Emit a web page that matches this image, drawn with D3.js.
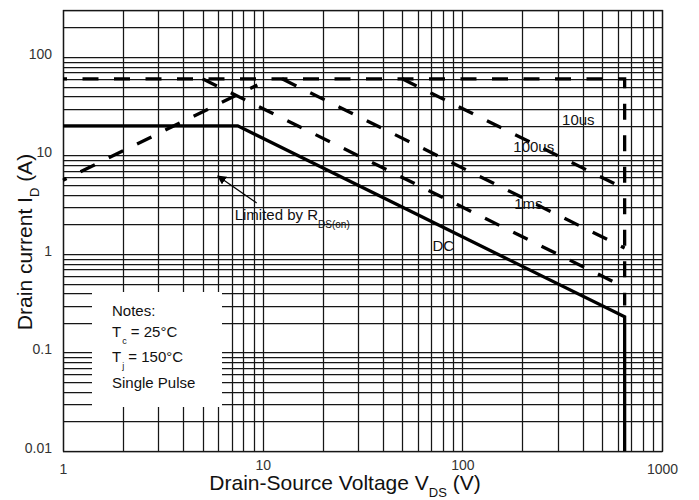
<!DOCTYPE html>
<html>
<head>
<meta charset="utf-8">
<script src="https://cdn.jsdelivr.net/npm/d3@7"></script>
<style>
  body { margin: 0; background: #fff; }
  svg { font-family: "Liberation Sans", Arial, sans-serif; }
</style>
</head>
<body>
<svg width="699" height="500"></svg>
<script>
'use strict';

// axis ticks
const x_ticks = [1, 10, 100, 1000];
const x_tick_labels = ['1', '10', '100', '1000'];
const y_ticks = [0.01, 0.1, 1, 10, 100];
const y_tick_labels = ['0.01', '0.1', '1', '10', '100'];

// DC curve (solid)
const dc_vds = [1, 7.5, 650, 650];
const dc_id = [20, 20, 0.23, 0.01];

// pulsed current limit + breakdown limit (dashed)
const limit_vds = [1, 650, 650];
const limit_id = [60, 60, 0.3];

// pulse power lines (dashed)
const p10us_vds = [50, 650];
const p10us_id = [60, 4.6];
const p100us_vds = [12.5, 650];
const p100us_id = [60, 1.15];
const p1ms_vds = [5, 650];
const p1ms_id = [60, 0.46];

// Rds(on) limit (dashed)
const rds_vds = [1, 9.4];
const rds_id = [5.6, 52];

const notes = ['Notes:', 'T|c| = 25°C', 'T|j| = 150°C', 'Single Pulse'];

const svg = d3.select('svg');
const plot_left = 63, plot_right = 662, plot_top = 10, plot_bottom = 451;

const x = d3.scaleLog().domain([1, 1000]).range([plot_left, plot_right]);
const y = d3.scaleLog().domain([0.01, 300]).range([plot_bottom, plot_top]);

// grid
const grid = svg.append('g').attr('stroke', '#161616').attr('stroke-width', 1.25);
grid.selectAll('line.v').data(x.ticks()).join('line')
  .attr('class', 'v')
  .attr('x1', d => Math.round(x(d)) + 0.5).attr('x2', d => Math.round(x(d)) + 0.5)
  .attr('y1', plot_top).attr('y2', plot_bottom);
grid.selectAll('line.h').data(y.ticks()).join('line')
  .attr('class', 'h')
  .attr('x1', plot_left).attr('x2', plot_right)
  .attr('y1', d => Math.round(y(d)) + 0.5).attr('y2', d => Math.round(y(d)) + 0.5);

// notes box hides the grid behind it
svg.append('rect')
  .attr('x', 92).attr('y', 292).attr('width', 130).attr('height', 115)
  .attr('fill', '#fff');

const notes_g = svg.append('text').attr('font-size', 15).attr('fill', '#111');
const note_base = [316, 337, 362, 388];
notes.forEach((line, i) => {
  const parts = line.split('|');
  notes_g.append('tspan').attr('x', 112).attr('y', note_base[i]).text(parts[0]);
  if (parts.length > 1) {
    notes_g.append('tspan').attr('font-size', 9).attr('dy', 7).attr('dx', 1).text(parts[1]);
    notes_g.append('tspan').attr('dy', -7).text(parts[2]);
  }
});

// border
svg.append('rect')
  .attr('x', plot_left + 0.5).attr('y', plot_top + 0.5)
  .attr('width', plot_right - plot_left).attr('height', plot_bottom - plot_top)
  .attr('fill', 'none').attr('stroke', '#161616').attr('stroke-width', 1.3);

// curves
const line = d3.line().x(d => x(d[0])).y(d => y(d[1]));
const curves = svg.append('g').attr('fill', 'none').attr('stroke', '#000')
  .attr('stroke-width', 3.3);

curves.append('path').attr('d', line(d3.zip(dc_vds, dc_id)));

const dashed = [
  [limit_vds, limit_id, 12],
  [p10us_vds, p10us_id, 0],
  [p100us_vds, p100us_id, 0],
  [p1ms_vds, p1ms_id, 0],
  [rds_vds, rds_id, 12]
];
dashed.forEach(([vs, is, off]) => {
  curves.append('path')
    .attr('d', line(d3.zip(vs, is)))
    .attr('stroke-dasharray', '16,15.5')
    .attr('stroke-dashoffset', off);
});

// curve labels
const labels = svg.append('g').attr('font-size', 15).attr('fill', '#111');
labels.append('text').attr('x', x(316)).attr('y', y(20.4)).text('10us');
labels.append('text').attr('x', x(180)).attr('y', y(10.9)).text('100us');
labels.append('text').attr('x', x(182)).attr('y', y(2.86)).text('1ms');
labels.append('text').attr('x', x(70.8)).attr('y', y(1.07)).text('DC');

const rds_label = labels.append('text').attr('x', x(7.24)).attr('y', y(2.21));
rds_label.append('tspan').text('Limited by R');
rds_label.append('tspan').attr('font-size', 10).attr('dy', 8).text('DS(on)');

// arrow
svg.append('defs').append('marker')
  .attr('id', 'arrow').attr('viewBox', '0 0 10 10')
  .attr('refX', 9).attr('refY', 5)
  .attr('markerWidth', 7).attr('markerHeight', 7)
  .attr('orient', 'auto-start-reverse')
  .append('path').attr('d', 'M0,0 L10,5 L0,10 z').attr('fill', '#000');
svg.append('line')
  .attr('x1', x(9.33)).attr('y1', y(3.3))
  .attr('x2', x(5.96)).attr('y2', y(6.2))
  .attr('stroke', '#000').attr('stroke-width', 1.3)
  .attr('marker-end', 'url(#arrow)');

// axes (labels only)
const y_axis = svg.append('g')
  .attr('transform', `translate(${plot_left},0)`)
  .call(d3.axisLeft(y).tickValues(y_ticks).tickSize(0).tickPadding(11)
    .tickFormat((d, i) => y_tick_labels[i]));
y_axis.select('.domain').remove();
y_axis.selectAll('text')
  .attr('font-family', '"Liberation Sans", Arial, sans-serif')
  .attr('font-size', 14).attr('fill', '#333').attr('dy', '0.1em');

const x_axis = svg.append('g')
  .attr('transform', `translate(0,${plot_bottom})`)
  .call(d3.axisBottom(x).tickValues(x_ticks).tickSize(0).tickPadding(13)
    .tickFormat((d, i) => x_tick_labels[i]));
x_axis.select('.domain').remove();
x_axis.selectAll('text')
  .attr('font-family', '"Liberation Sans", Arial, sans-serif')
  .attr('font-size', 14).attr('fill', '#333')
  .attr('dy', (d, i) => (i === 1 || i === 2) ? '0.45em' : '0.71em');

// axis titles
const x_title = svg.append('text')
  .attr('x', 345).attr('y', 490)
  .attr('text-anchor', 'middle').attr('font-size', 21).attr('fill', '#111');
x_title.append('tspan').text('Drain-Source Voltage V');
x_title.append('tspan').attr('font-size', 13).attr('dy', 7).text('DS');
x_title.append('tspan').attr('dy', -7).text(' (V)');

const y_title = svg.append('text')
  .attr('transform', 'translate(32,242) rotate(-90)')
  .attr('text-anchor', 'middle').attr('font-size', 21).attr('fill', '#111');
y_title.append('tspan').text('Drain current I');
y_title.append('tspan').attr('font-size', 13).attr('dy', 7).text('D');
y_title.append('tspan').attr('dy', -7).text(' (A)');
</script>
</body>
</html>
